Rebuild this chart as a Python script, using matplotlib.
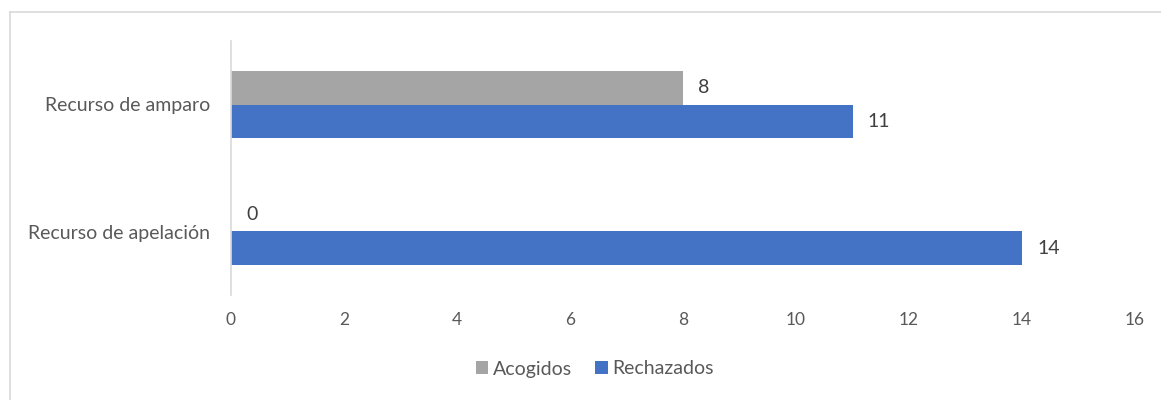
import numpy as np
import matplotlib.pyplot as plt
from matplotlib.lines import Line2D

plt.rcParams['font.family'] = ['Lato', 'DejaVu Sans']

categories = ["Recurso de apelación", "Recurso de amparo"]
acogidos = [0, 8]
rechazados = [14, 11]
x_ticks = [0, 2, 4, 6, 8, 10, 12, 14, 16]

GRAY = "#A5A5A5"
BLUE = "#4472C4"
TEXT = "#595959"
LINE = "#D9D9D9"

fig = plt.figure(figsize=(11.61, 4), dpi=100)
ax = fig.add_axes([231 / 1161, 1 - 295 / 400, (1135 - 231) / 1161, (295 - 41) / 400])

y = np.arange(len(categories))
h = 0.265
bars_a = ax.barh(y + h / 2, acogidos, height=h, color=GRAY, label="Acogidos")
bars_r = ax.barh(y - h / 2, rechazados, height=h, color=BLUE, label="Rechazados")

# value labels just past the end of each bar
for bars in (bars_a, bars_r):
    for b in bars:
        w = b.get_width()
        ax.annotate(f"{w:g}", (w, b.get_y() + b.get_height() / 2),
                    xytext=(15, 0), textcoords="offset pixels",
                    ha="left", va="center", fontsize=14, color="#404040")

ax.set_xlim(0, 16)
ax.set_ylim(-0.5, 1.5)
ax.set_xticks(x_ticks)
ax.set_yticks(y)
ax.set_yticklabels(categories)
ax.tick_params(axis="x", length=0, labelsize=12.5, labelcolor=TEXT, pad=12.5)
ax.tick_params(axis="y", length=0, labelsize=14, labelcolor=TEXT, pad=15)
for side in ("top", "right", "bottom"):
    ax.spines[side].set_visible(False)
ax.spines["left"].set_color(LINE)
ax.spines["left"].set_linewidth(1.2)

fig.legend(handles=[bars_a, bars_r], loc="center", bbox_to_anchor=(595 / 1161, 1 - 369 / 400),
           ncol=2, frameon=False, fontsize=14, labelcolor=TEXT,
           handlelength=0.62, handleheight=0.62, handletextpad=0.26, columnspacing=1.2)

# chart frame
fig.add_artist(Line2D([9.5 / 1161, 9.5 / 1161], [0, 1 - 12 / 400], color=LINE, lw=1.2))
fig.add_artist(Line2D([9.5 / 1161, 1], [1 - 12 / 400, 1 - 12 / 400], color=LINE, lw=1.2))

fig.savefig("out.png", dpi=100)
